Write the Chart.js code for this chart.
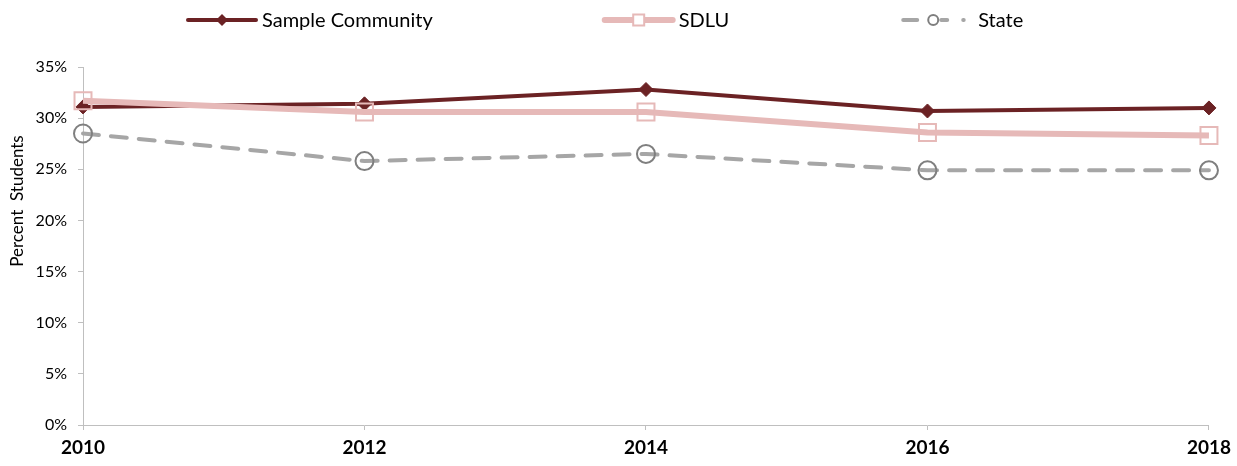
<!DOCTYPE html>
<html>
<head>
<meta charset="utf-8">
<script src="https://cdn.jsdelivr.net/npm/chart.js@4.4.1/dist/chart.umd.min.js"></script>
<style>
  html, body { margin: 0; padding: 0; background: #fff; }
  #wrap { width: 1237px; height: 466px; }
</style>
</head>
<body>
<div id="wrap"><canvas id="chart" width="1237" height="466"></canvas></div>
<script>
// data (percent)
const years = ['2010', '2012', '2014', '2016', '2018'];
const sampleCommunity = [31.1, 31.4, 32.8, 30.7, 31.0];
const sdlu = [31.7, 30.6, 30.6, 28.6, 28.3];
const state = [28.5, 25.8, 26.5, 24.9, 24.9];
const seriesNames = ['Sample Community', 'SDLU', 'State'];
const yTicks = [0, 5, 10, 15, 20, 25, 30, 35];
const yTitle = 'Percent  Students';

const FONT = 'Lato, "Open Sans", sans-serif';
const MAROON = '#6B2224';
const PINK = '#E6B9B8';
const GREY = '#A6A6A6';
const GREY_DARK = '#7F7F7F';

// small legend marker, same shape as the one used in the plot
function drawLegendMarker(ctx, ds, x, y) {
  ctx.save();
  ctx.setLineDash([]);
  ctx.lineWidth = ds.pointBorderWidth;
  ctx.strokeStyle = ds.pointBorderColor;
  ctx.beginPath();
  if (ds.pointStyle === 'rectRot') {
    const r = 6;
    ctx.moveTo(x, y - r); ctx.lineTo(x + r, y); ctx.lineTo(x, y + r); ctx.lineTo(x - r, y); ctx.closePath();
    ctx.fillStyle = ds.pointBackgroundColor;
    ctx.fill();
  } else if (ds.pointStyle === 'rect') {
    ctx.rect(x - 5.5, y - 5.5, 11, 11);
    ctx.fillStyle = '#fff';
    ctx.fill(); ctx.stroke();
  } else {
    ctx.arc(x, y, 5, 0, Math.PI * 2);
    ctx.fillStyle = '#fff';
    ctx.fill(); ctx.stroke();
  }
  ctx.restore();
}

const legendPlugin = {
  id: 'topLegend',
  afterDraw(chart) {
    const ctx = chart.ctx;
    const y = 20;
    const symW = 68;
    const gap = 172;
    let x = 188;
    ctx.save();
    ctx.font = '20px ' + FONT;
    ctx.textBaseline = 'middle';
    chart.data.datasets.forEach((ds) => {
      ctx.save();
      ctx.strokeStyle = ds.borderColor;
      ctx.lineWidth = ds.borderWidth;
      ctx.lineCap = 'round';
      ctx.beginPath();
      if (ds.borderDash) {
        ctx.moveTo(x + 2, y); ctx.lineTo(x + 16, y);
        ctx.moveTo(x + 40, y); ctx.lineTo(x + 46, y);
        ctx.moveTo(x + 62, y); ctx.lineTo(x + 62.5, y);
      } else {
        ctx.moveTo(x, y); ctx.lineTo(x + symW, y);
      }
      ctx.stroke();
      ctx.restore();
      drawLegendMarker(ctx, ds, x + (ds.borderDash ? 32 : symW / 2), y);
      ctx.fillStyle = '#000';
      const tx = x + symW + (ds.borderDash ? 9 : 6);
      ctx.fillText(ds.label, tx, y + 1);
      x = tx + ctx.measureText(ds.label).width + gap;
    });
    ctx.restore();
  }
};

const yTitlePlugin = {
  id: 'yTitle',
  afterDraw(chart) {
    const ctx = chart.ctx;
    ctx.save();
    ctx.translate(18, 201);
    ctx.rotate(-Math.PI / 2);
    ctx.font = '17px ' + FONT;
    ctx.fillStyle = '#000';
    ctx.textAlign = 'center';
    ctx.textBaseline = 'middle';
    ctx.fillText(yTitle, 0, 0);
    ctx.restore();
  }
};

new Chart(document.getElementById('chart'), {
  type: 'line',
  data: {
    labels: years,
    datasets: [
      {
        label: seriesNames[0],
        data: sampleCommunity,
        borderColor: MAROON,
        borderWidth: 4,
        pointStyle: 'rectRot',
        pointRadius: 7,
        pointBackgroundColor: MAROON,
        pointBorderColor: MAROON,
        pointBorderWidth: 1,
        order: 2
      },
      {
        label: seriesNames[1],
        data: sdlu,
        borderColor: PINK,
        borderWidth: 6,
        pointStyle: 'rect',
        pointRadius: 12,
        pointBackgroundColor: 'rgba(0,0,0,0)',
        pointBorderColor: PINK,
        pointBorderWidth: 2,
        order: 1
      },
      {
        label: seriesNames[2],
        data: state,
        borderColor: GREY,
        borderWidth: 4,
        borderDash: [16, 12],
        borderCapStyle: 'round',
        pointStyle: 'circle',
        pointRadius: 9,
        pointBackgroundColor: 'rgba(0,0,0,0)',
        pointBorderColor: GREY_DARK,
        pointBorderWidth: 2,
        order: 3
      }
    ]
  },
  options: {
    responsive: false,
    animation: false,
    devicePixelRatio: 1,
    layout: { padding: { top: 67, right: 26, bottom: 0, left: 0 } },
    plugins: {
      legend: { display: false },
      tooltip: { enabled: false }
    },
    scales: {
      x: {
        type: 'category',
        offset: false,
        grid: { drawOnChartArea: false, drawTicks: true, tickLength: 5, color: '#BFBFBF' },
        border: { display: true, color: '#BFBFBF', width: 1 },
        ticks: {
          color: '#000',
          padding: 6,
          maxRotation: 0,
          font: { family: FONT, size: 19, weight: 'bold' }
        },
        afterFit(scale) { scale.height = 41; }
      },
      y: {
        min: 0,
        max: 35,
        afterBuildTicks(scale) { scale.ticks = yTicks.map((v) => ({ value: v })); },
        grid: { drawOnChartArea: false, drawTicks: true, tickLength: 5, color: '#BFBFBF' },
        border: { display: true, color: '#BFBFBF', width: 1 },
        ticks: {
          color: '#000',
          padding: 11,
          font: { family: FONT, size: 16 },
          callback: (v) => v + '%'
        },
        afterFit(scale) { scale.width = 83; }
      }
    }
  },
  plugins: [legendPlugin, yTitlePlugin]
});
</script>
</body>
</html>
